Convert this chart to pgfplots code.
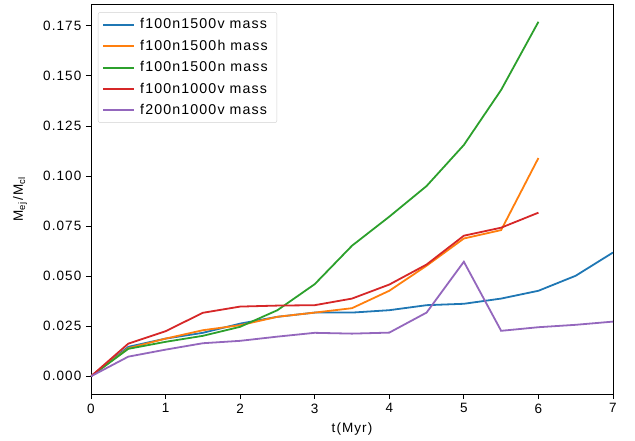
\documentclass[border=0pt]{standalone}
\usepackage{pgfplots}
\pgfplotsset{compat=1.18}
\usepackage{fontspec}
\setmainfont{Liberation Sans}[LetterSpace=8]
\definecolor{c0}{HTML}{1F77B4}
\definecolor{c1}{HTML}{FF7F0E}
\definecolor{c2}{HTML}{2CA02C}
\definecolor{c3}{HTML}{D62728}
\definecolor{c4}{HTML}{9467BD}
\begin{document}
\fontsize{13.5bp}{16bp}\selectfont
\begin{tikzpicture}
\begin{axis}[
 scale only axis,
 width=522bp,height=390bp,
 xmin=0,xmax=7,ymin=-0.00885,ymax=0.1859,
 xtick={0,1,...,7},
 ytick={0,0.025,0.05,0.075,0.1,0.125,0.15,0.175},
 yticklabel style={/pgf/number format/.cd,fixed,fixed zerofill,precision=3},
 /pgf/number format/assume math mode=true,
 tick align=outside,
 major tick length=5bp,
 tick style={black,line width=0.8bp},
 axis line style={line width=0.8bp},
 xtick pos=bottom,ytick pos=left,
 xlabel={t(Myr)},
 ylabel={M\textsubscript{ej}\kern1bp/M\textsubscript{cl}},
 ylabel style={yshift=7bp},
 every axis plot/.append style={line width=1.8bp,mark=none},
 legend cell align=left,
 legend style={at={(0.0134,0.979)},anchor=north west,
   draw=gray!35,rounded corners=2bp,fill=white,
   row sep=5.2bp,inner sep=4bp,font=\fontsize{14.2bp}{16bp}\selectfont,
   nodes={inner xsep=5bp}},
 legend image code/.code={\draw[#1,line width=2bp] (0bp,0bp) -- (31bp,0bp);},
]
\addplot[c0] coordinates {(0,0) (0.5,0.0147) (1,0.0188) (1.5,0.0217) (2,0.0263) (2.5,0.0297) (3,0.0318) (3.5,0.0318) (4,0.033) (4.5,0.0355) (5,0.0362) (5.5,0.0388) (6,0.0427) (6.5,0.0502) (7,0.0618)};
\addlegendentry{f100n1500v mass}
\addplot[c1] coordinates {(0,0) (0.5,0.014) (1,0.0188) (1.5,0.023) (2,0.0255) (2.5,0.0297) (3,0.0318) (3.5,0.034) (4,0.0427) (4.5,0.0552) (5,0.0688) (5.5,0.073) (6,0.109)};
\addlegendentry{f100n1500h mass}
\addplot[c2] coordinates {(0,0) (0.5,0.0137) (1,0.0172) (1.5,0.0202) (2,0.0247) (2.5,0.033) (3,0.046) (3.5,0.0652) (4,0.0797) (4.5,0.095) (5,0.1155) (5.5,0.143) (6,0.177)};
\addlegendentry{f100n1500n mass}
\addplot[c3] coordinates {(0,0) (0.5,0.0163) (1,0.0225) (1.5,0.0317) (2,0.0348) (2.5,0.0353) (3,0.0355) (3.5,0.0388) (4,0.0458) (4.5,0.0558) (5,0.0702) (5.5,0.0742) (6,0.0817)};
\addlegendentry{f100n1000v mass}
\addplot[c4] coordinates {(0,0) (0.5,0.0098) (1,0.0133) (1.5,0.0165) (2,0.0177) (2.5,0.0198) (3,0.0217) (3.5,0.0213) (4,0.0218) (4.5,0.0318) (5,0.0572) (5.5,0.0227) (6,0.0245) (6.5,0.0257) (7,0.0273)};
\addlegendentry{f200n1000v mass}
\end{axis}
\path (current axis.south west) ++(-91bp,-47bp) coordinate (bl);
\path (current axis.north east) ++(22bp,4bp) coordinate (tr);
\useasboundingbox (bl) rectangle (tr);
\end{tikzpicture}
\end{document}
